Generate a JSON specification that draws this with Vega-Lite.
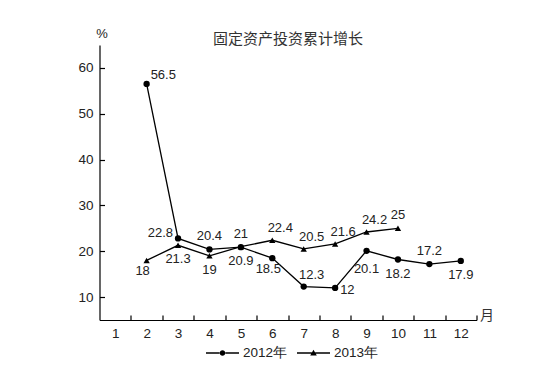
{
  "$schema": "https://vega.github.io/schema/vega-lite/v6.json",
  "width": 377,
  "height": 275,
  "autosize": {"type": "none"},
  "padding": {"left": 99.5, "top": 45, "right": 76.5, "bottom": 64},
  "background": "white",
  "config": {
    "view": {"stroke": null},
    "font": "Liberation Sans",
    "axis": {"grid": false, "domainColor": "#000", "tickColor": "#000", "labelColor": "#222", "labelFont": "Liberation Sans", "labelFontSize": 13.5, "domainWidth": 1.2, "tickWidth": 1.2},
    "legend": {
      "orient": "none", "legendX": 106.5, "legendY": 291.5, "direction": "horizontal",
      "symbolSize": 1089, "symbolStrokeWidth": 0, "symbolFillColor": "#000", "symbolOpacity": 1,
      "labelFontSize": 13.5, "labelFont": "Liberation Sans", "labelColor": "#222", "labelOffset": 4, "columnPadding": 9, "padding": 0
    }
  },
  "title": {"text": "固定资产投资累计增长", "font": "Noto Sans CJK SC", "fontSize": 15, "fontWeight": "normal", "color": "#333", "anchor": "middle", "offset": 0, "dy": 20},
  "data": {"values": [
    {"month": 2, "value": 56.5, "year": "2012年"},
    {"month": 3, "value": 22.8, "year": "2012年"},
    {"month": 4, "value": 20.4, "year": "2012年"},
    {"month": 5, "value": 20.9, "year": "2012年"},
    {"month": 6, "value": 18.5, "year": "2012年"},
    {"month": 7, "value": 12.3, "year": "2012年"},
    {"month": 8, "value": 12, "year": "2012年"},
    {"month": 9, "value": 20.1, "year": "2012年"},
    {"month": 10, "value": 18.2, "year": "2012年"},
    {"month": 11, "value": 17.2, "year": "2012年"},
    {"month": 12, "value": 17.9, "year": "2012年"},
    {"month": 2, "value": 18, "year": "2013年"},
    {"month": 3, "value": 21.3, "year": "2013年"},
    {"month": 4, "value": 19, "year": "2013年"},
    {"month": 5, "value": 21, "year": "2013年"},
    {"month": 6, "value": 22.4, "year": "2013年"},
    {"month": 7, "value": 20.5, "year": "2013年"},
    {"month": 8, "value": 21.6, "year": "2013年"},
    {"month": 9, "value": 24.2, "year": "2013年"},
    {"month": 10, "value": 25, "year": "2013年"}
  ]},
  "resolve": {"axis": {"x": "independent", "y": "independent"}, "scale": {"shape": "independent"}},
  "encoding": {
    "x": {"field": "month", "type": "quantitative", "scale": {"domain": [0.5, 12.5], "nice": false, "zero": false}, "axis": null},
    "y": {"field": "value", "type": "quantitative", "scale": {"domain": [5, 65], "nice": false, "zero": false}, "axis": null}
  },
  "layer": [
    {
      "mark": {"type": "line", "color": "#000", "strokeWidth": 1.3},
      "encoding": {
        "x": {"field": "month", "type": "quantitative", "scale": {"domain": [0.5, 12.5], "nice": false, "zero": false},
          "axis": {"orient": "bottom", "values": [1.5, 2.5, 3.5, 4.5, 5.5, 6.5, 7.5, 8.5, 9.5, 10.5, 11.5, 12.5], "labels": false, "tickSize": -5, "title": "月", "titleX": 387, "titleY": -5, "titleAlign": "center", "titleBaseline": "middle", "titleFont": "Noto Sans CJK SC", "titleFontSize": 14, "titleFontWeight": "normal", "titleColor": "#333"}},
        "y": {"field": "value", "type": "quantitative", "scale": {"domain": [5, 65], "nice": false, "zero": false},
          "axis": {"orient": "left", "values": [10, 20, 30, 40, 50, 60], "labels": false, "tickSize": -5, "title": "%", "titleAngle": 0, "titleX": 2, "titleY": -12, "titleAlign": "center", "titleBaseline": "middle", "titleFont": "Liberation Sans", "titleFontSize": 13, "titleFontWeight": "normal", "titleColor": "#222"}},
        "detail": {"field": "year"}
      }
    },
    {
      "mark": {"type": "point", "filled": true, "color": "#000", "opacity": 1, "size": 40},
      "encoding": {
        "x": {"field": "month", "type": "quantitative", "scale": {"domain": [0.5, 12.5], "nice": false, "zero": false},
          "axis": {"orient": "bottom", "values": [1, 2, 3, 4, 5, 6, 7, 8, 9, 10, 11, 12], "ticks": false, "domain": false, "labelPadding": 6, "title": null, "format": "d"}},
        "y": {"field": "value", "type": "quantitative", "scale": {"domain": [5, 65], "nice": false, "zero": false},
          "axis": {"orient": "left", "values": [10, 20, 30, 40, 50, 60], "ticks": false, "domain": false, "labelPadding": 6.5, "title": null, "format": "d"}},
        "shape": {"field": "year", "type": "nominal", "scale": {"domain": ["2012年", "2013年"], "range": ["circle", "triangle-up"]}, "legend": null}
      }
    },
    {
      "transform": [{"filter": "datum.month > 100"}],
      "mark": {"type": "point", "filled": true, "fill": "#000", "opacity": 1, "size": 1089},
      "encoding": {
        "shape": {"field": "year", "type": "nominal",
          "scale": {"domain": ["2012年", "2013年"], "range": [
            "M-1,-0.04L-0.15,-0.04L-0.15,0.04L-1,0.04Z M0.15,-0.04L1,-0.04L1,0.04L0.15,0.04Z M-0.17,0A0.17,0.17 0 1,0 0.17,0A0.17,0.17 0 1,0 -0.17,0Z",
            "M-1,-0.04L-0.1,-0.04L-0.1,0.04L-1,0.04Z M0.1,-0.04L1,-0.04L1,0.04L0.1,0.04Z M0,-0.2L0.2,0.15L-0.2,0.15Z"]},
          "legend": {"title": null, "symbolSize": 1089, "symbolFillColor": "#000"}}
      }
    },
    {
      "transform": [{"filter": "(datum.year == '2012年' && indexof([4, 11], datum.month) >= 0) || (datum.year == '2013年' && indexof([5, 10], datum.month) >= 0)"}],
      "mark": {"type": "text", "fontSize": 13, "color": "#222", "align": "center", "baseline": "middle", "dx": 0, "dy": -13},
      "encoding": {"text": {"field": "value", "type": "nominal"}}
    },
    {
      "transform": [{"filter": "(datum.year == '2012年' && datum.month == 7) || (datum.year == '2013年' && indexof([6, 7, 8, 9], datum.month) >= 0)"}],
      "mark": {"type": "text", "fontSize": 13, "color": "#222", "align": "center", "baseline": "middle", "dx": 8, "dy": -12},
      "encoding": {"text": {"field": "value", "type": "nominal"}}
    },
    {
      "transform": [{"filter": "(datum.year == '2012年' && indexof([5, 10, 12], datum.month) >= 0) || (datum.year == '2013年' && indexof([3, 4], datum.month) >= 0)"}],
      "mark": {"type": "text", "fontSize": 13, "color": "#222", "align": "center", "baseline": "middle", "dx": 0, "dy": 14},
      "encoding": {"text": {"field": "value", "type": "nominal"}}
    },
    {
      "transform": [{"filter": "(datum.year == '2012年' && datum.month == 6) || (datum.year == '2013年' && datum.month == 2)"}],
      "mark": {"type": "text", "fontSize": 13, "color": "#222", "align": "center", "baseline": "middle", "dx": -4, "dy": 11},
      "encoding": {"text": {"field": "value", "type": "nominal"}}
    },
    {
      "transform": [{"filter": "datum.year == '2012年' && datum.month == 9"}],
      "mark": {"type": "text", "fontSize": 13, "color": "#222", "align": "center", "baseline": "middle", "dx": 0, "dy": 18},
      "encoding": {"text": {"field": "value", "type": "nominal"}}
    },
    {
      "transform": [{"filter": "datum.year == '2012年' && datum.month == 2"}],
      "mark": {"type": "text", "fontSize": 13, "color": "#222", "align": "left", "baseline": "middle", "dx": 4, "dy": -9},
      "encoding": {"text": {"field": "value", "type": "nominal"}}
    },
    {
      "transform": [{"filter": "datum.year == '2012年' && datum.month == 3"}],
      "mark": {"type": "text", "fontSize": 13, "color": "#222", "align": "right", "baseline": "middle", "dx": -5, "dy": -5},
      "encoding": {"text": {"field": "value", "type": "nominal"}}
    },
    {
      "transform": [{"filter": "datum.year == '2012年' && datum.month == 8"}],
      "mark": {"type": "text", "fontSize": 13, "color": "#222", "align": "left", "baseline": "middle", "dx": 5, "dy": 2},
      "encoding": {"text": {"field": "value", "type": "nominal"}}
    }
  ]
}
